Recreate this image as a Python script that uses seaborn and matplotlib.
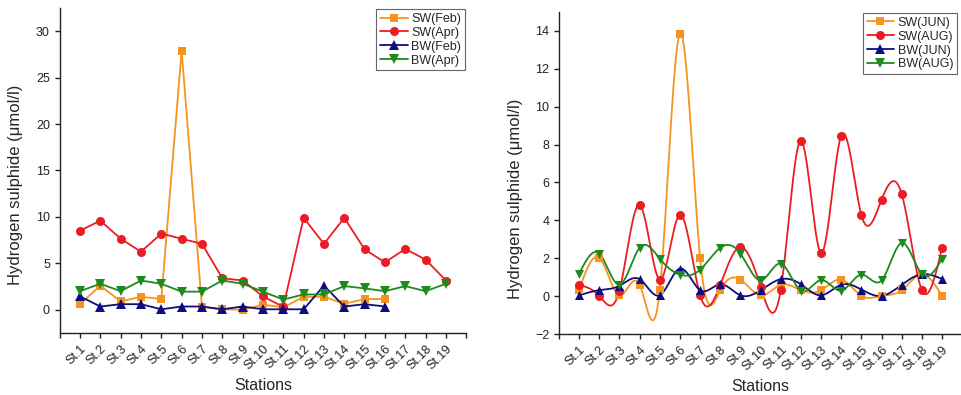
import numpy as np
import pandas as pd
import matplotlib
matplotlib.use("Agg")
import matplotlib.pyplot as plt
from matplotlib.lines import Line2D
import seaborn as sns

# Station labels
stations = [f"St.{i}" for i in range(1, 20)]
x_all = list(range(1, 20))
x_16 = list(range(1, 17))

# Hydrogen sulphide (umol/l), February / April campaigns
sw_feb = [0.6, 2.6, 0.9, 1.4, 1.15, 27.9, 0.3, 0.05, 0.0, 0.55, 0.25, 1.4, 1.4, 0.65, 1.15, 1.15]
sw_apr = [8.5, 9.6, 7.65, 6.25, 8.2, 7.65, 7.1, 3.4, 3.15, 1.45, 0.3, 9.9, 7.1, 9.9, 6.5, 5.1, 6.55, 5.4, 3.15]
bw_feb = [1.45, 0.35, 0.6, 0.6, 0.05, 0.35, 0.35, 0.05, 0.35, 0.05, 0.05, 0.05, 2.6, 0.35, 0.6, 0.35]
bw_apr = [2.0, 2.8, 2.0, 3.15, 2.8, 1.95, 1.95, 3.15, 2.8, 1.95, 1.1, 1.65, 1.65, 2.55, 2.3, 2.0, 2.55, 2.0, 2.8]

# Hydrogen sulphide (umol/l), June / August campaigns
sw_jun = [0.35, 2.03, 0.05, 0.61, 0.32, 13.85, 2.03, 0.32, 0.88, 0.05, 0.6, 0.32, 0.32, 0.88, 0.02, 0.02, 0.32, 1.16, 0.02]
sw_aug = [0.6, 0.02, 0.3, 4.82, 0.88, 4.3, 0.05, 0.6, 2.6, 0.5, 0.35, 8.2, 2.28, 8.47, 4.27, 5.1, 5.38, 0.32, 2.57]
bw_jun = [0.05, 0.32, 0.55, 0.9, 0.05, 1.46, 0.32, 0.63, 0.05, 0.32, 0.9, 0.63, 0.05, 0.61, 0.35, 0.02, 0.61, 1.16, 0.91]
bw_aug = [1.19, 2.25, 0.61, 2.56, 1.98, 1.14, 1.4, 2.56, 2.25, 0.84, 1.72, 0.3, 0.85, 0.3, 1.14, 0.84, 2.81, 1.16, 1.98]

ORANGE = "#F7931E"
RED = "#EC1C24"
NAVY = "#0D0D80"
GREEN = "#1E8A1E"

sns.set_style("ticks")
plt.rcParams["font.family"] = ["Liberation Sans", "DejaVu Sans"]
plt.rcParams["axes.linewidth"] = 1.0
plt.rcParams["xtick.major.width"] = 1.0
plt.rcParams["ytick.major.width"] = 1.0
plt.rcParams["xtick.major.size"] = 3.5
plt.rcParams["ytick.major.size"] = 3.5
plt.rcParams["xtick.color"] = "#222222"
plt.rcParams["ytick.color"] = "#222222"
plt.rcParams["axes.edgecolor"] = "#222222"


def natural_spline(x, y, n=600):
    """Natural cubic spline through (x, y), sampled at n points."""
    x = np.asarray(x, float)
    y = np.asarray(y, float)
    m = len(x)
    h = np.diff(x)
    A = np.zeros((m, m))
    r = np.zeros(m)
    A[0, 0] = A[-1, -1] = 1.0
    for i in range(1, m - 1):
        A[i, i - 1] = h[i - 1]
        A[i, i] = 2 * (h[i - 1] + h[i])
        A[i, i + 1] = h[i]
        r[i] = 3 * ((y[i + 1] - y[i]) / h[i] - (y[i] - y[i - 1]) / h[i - 1])
    c = np.linalg.solve(A, r)
    b = (y[1:] - y[:-1]) / h - h * (2 * c[:-1] + c[1:]) / 3
    d = (c[1:] - c[:-1]) / (3 * h)
    xs = np.linspace(x[0], x[-1], n)
    idx = np.clip(np.searchsorted(x, xs) - 1, 0, m - 2)
    t = xs - x[idx]
    ys = y[idx] + b[idx] * t + c[idx] * t ** 2 + d[idx] * t ** 3
    return xs, ys


fig = plt.figure(figsize=(9.62, 3.95), dpi=100)
ax1 = fig.add_axes([0.062, 0.157, 0.4227, 0.823])
ax2 = fig.add_axes([0.581, 0.154, 0.4193, 0.816])

series_left = [
    ("SW(Feb)", x_16, sw_feb, ORANGE, "s", 5.5),
    ("SW(Apr)", x_all, sw_apr, RED, "o", 6.5),
    ("BW(Feb)", x_16, bw_feb, NAVY, "^", 6.5),
    ("BW(Apr)", x_all, bw_apr, GREEN, "v", 6.5),
]
series_right = [
    ("SW(JUN)", x_all, sw_jun, ORANGE, "s", 5.5),
    ("SW(AUG)", x_all, sw_aug, RED, "o", 6.5),
    ("BW(JUN)", x_all, bw_jun, NAVY, "^", 6.5),
    ("BW(AUG)", x_all, bw_aug, GREEN, "v", 6.5),
]

# Left panel: straight segments between stations
for name, xs, ys, col, mk, ms in series_left:
    df = pd.DataFrame({"x": xs, "y": ys})
    sns.lineplot(data=df, x="x", y="y", ax=ax1, color=col, lw=1.3,
                 marker=mk, markersize=ms, markeredgewidth=0,
                 markeredgecolor=col, sort=False, estimator=None)

# Right panel: smooth spline connections through the station values
for name, xs, ys, col, mk, ms in series_right:
    sx, sy = natural_spline(xs, ys)
    sns.lineplot(x=sx, y=sy, ax=ax2, color=col, lw=1.3, sort=False, estimator=None)
    df = pd.DataFrame({"x": xs, "y": ys})
    sns.scatterplot(data=df, x="x", y="y", ax=ax2, color=col, marker=mk,
                    s=ms ** 2, edgecolor=col, linewidth=0, zorder=3)

for ax, ylim, yt, series in [(ax1, (-2.5, 32.5), range(0, 31, 5), series_left),
                              (ax2, (-2, 15), range(-2, 15, 2), series_right)]:
    ax.set_xlim(0, 20)
    ax.set_ylim(*ylim)
    ax.set_yticks(list(yt))
    ax.set_xticks(list(range(0, 21)))
    ax.set_xticklabels([""] + stations + [""], rotation=45, ha="right",
                       rotation_mode="anchor", fontsize=9)
    ax.tick_params(axis="y", labelsize=9)
    ax.set_xlabel("Stations", fontsize=11.5, labelpad=4)
    ax.set_ylabel("Hydrogen sulphide (\u03bcmol/l)", fontsize=12)
    sns.despine(ax=ax)
    handles = [Line2D([], [], color=c, lw=1.3, marker=m, markersize=ms,
                      markeredgewidth=0) for _, _, _, c, m, ms in series]
    labels = [s[0] for s in series]
    anchor = (1.0, 1.0) if ax is ax1 else (0.99, 1.0)
    leg = ax.legend(handles, labels, loc="upper right", bbox_to_anchor=anchor,
                    borderaxespad=0.1, fontsize=9, frameon=True, fancybox=False,
                    handlelength=2.2, handletextpad=0.3, labelspacing=0.15,
                    borderpad=0.3, edgecolor="#666666", framealpha=1)
    leg.get_frame().set_linewidth(0.8)

ax1.yaxis.set_label_coords(-0.09, 0.455)
ax2.yaxis.set_label_coords(-0.088, 0.42)

fig.savefig("out.png", dpi=100)
